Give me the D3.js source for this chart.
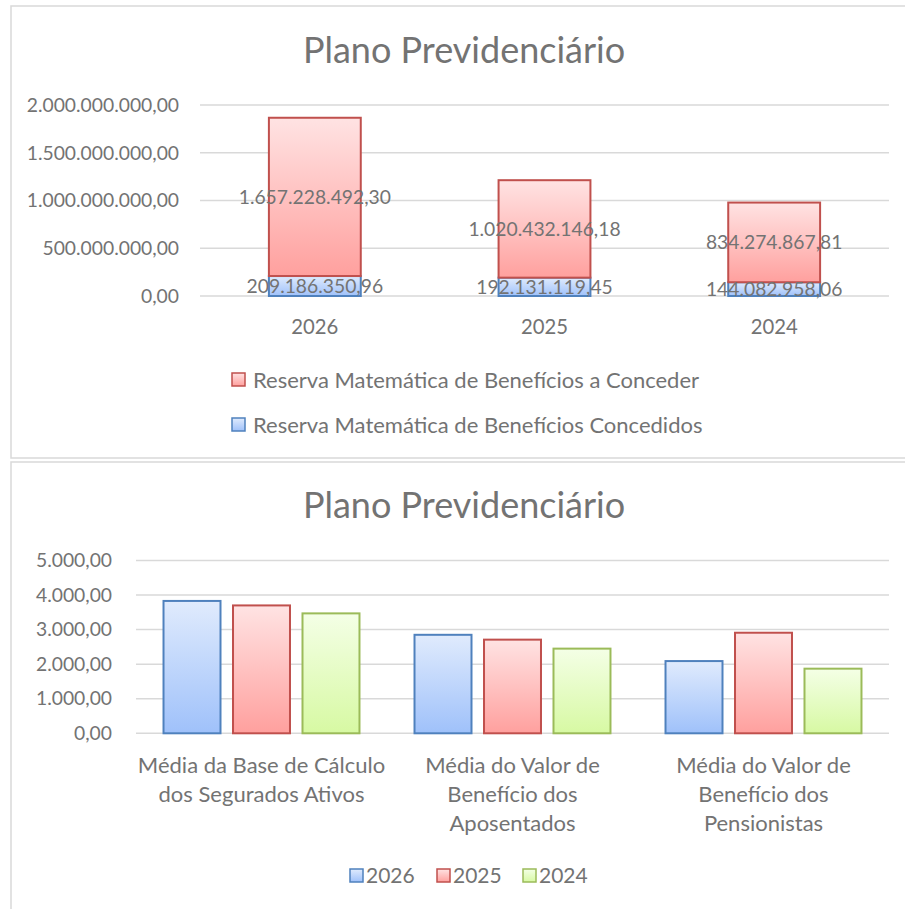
<!DOCTYPE html>
<html>
<head>
<meta charset="utf-8">
<script src="https://cdn.jsdelivr.net/npm/d3@7"></script>
<style>
  body { margin: 0; background: #fff; }
  text { font-family: Lato, "Open Sans", sans-serif; fill: #737373; }
</style>
</head>
<body>
<svg id="chart" width="905" height="909"></svg>
<script>
// top chart data (reservas)
const years = ["2026", "2025", "2024"];
const concedidos = [209186350.96, 192131119.45, 144082958.06];
const aConceder = [1657228492.30, 1020432146.18, 834274867.81];
const reservaTicks = [0, 500000000, 1000000000, 1500000000, 2000000000];
const reservaNames = ["Reserva Matemática de Benefícios a Conceder", "Reserva Matemática de Benefícios Concedidos"];

// bottom chart data (médias)
const mediaCats = [
  ["Média da Base de Cálculo", "dos Segurados Ativos"],
  ["Média do Valor de", "Benefício dos", "Aposentados"],
  ["Média do Valor de", "Benefício dos", "Pensionistas"]
];
const media2026 = [3830, 2850, 2090];
const media2025 = [3700, 2710, 2910];
const media2024 = [3470, 2450, 1870];
const mediaTicks = [0, 1000, 2000, 3000, 4000, 5000];

const br = d3.formatLocale({ decimal: ",", thousands: ".", grouping: [3], currency: ["R$", ""] });
const fmt = br.format(",.2f");

const svg = d3.select("#chart");

// gradients, one per colour (top light -> bottom darker)
const colours = {
  blue: { stroke: "#4f81bd", top: "#e0ebfd", bottom: "#9fc1fa" },
  red: { stroke: "#c0504d", top: "#ffe3e3", bottom: "#ffa09e" },
  green: { stroke: "#9bbb59", top: "#f4ffe6", bottom: "#d7f9a3" }
};
const defs = svg.append("defs");
Object.entries(colours).forEach(([k, c]) => {
  const g = defs.append("linearGradient").attr("id", "grad-" + k)
    .attr("x1", 0).attr("y1", 0).attr("x2", 0).attr("y2", 1);
  g.append("stop").attr("offset", "0%").attr("stop-color", c.top);
  g.append("stop").attr("offset", "100%").attr("stop-color", c.bottom);
});

// chart frames
svg.append("rect").attr("x", 11).attr("y", 6).attr("width", 900).attr("height", 452)
  .attr("fill", "none").attr("stroke", "#d9d9d9").attr("stroke-width", 1.5);
svg.append("rect").attr("x", 11).attr("y", 462).attr("width", 900).attr("height", 460)
  .attr("fill", "none").attr("stroke", "#d9d9d9").attr("stroke-width", 1.5);

// ---------- top chart ----------
const topG = svg.append("g");
topG.append("text").attr("x", 464).attr("y", 50).attr("dy", "0.35em")
  .attr("text-anchor", "middle").style("font-size", "36px").text("Plano Previdenciário");

const y1 = d3.scaleLinear().domain([0, 2000000000]).range([296, 105]);
const x1 = d3.scaleBand().domain(years).range([200, 889]).paddingInner(0.6).paddingOuter(0.3);

topG.append("g").selectAll("line").data(reservaTicks).join("line")
  .attr("x1", 200).attr("x2", 889)
  .attr("y1", d => y1(d)).attr("y2", d => y1(d))
  .attr("stroke", "#d9d9d9").attr("stroke-width", 1.5);

topG.append("g").selectAll("text").data(reservaTicks).join("text")
  .attr("x", 179).attr("y", d => y1(d)).attr("dy", "0.35em")
  .attr("text-anchor", "end").style("font-size", "19.3px").text(d => fmt(d));

topG.append("g").selectAll("text").data(years).join("text")
  .attr("x", d => x1(d) + x1.bandwidth() / 2).attr("y", 327).attr("dy", "0.35em")
  .attr("text-anchor", "middle").style("font-size", "20.3px").text(d => d);

const rows = years.map((yr, i) => ({ year: yr, concedidos: concedidos[i], aConceder: aConceder[i] }));
const stacked = d3.stack().keys(["concedidos", "aConceder"])(rows);
const stackCol = { concedidos: "blue", aConceder: "red" };

stacked.forEach(layer => {
  const c = stackCol[layer.key];
  const g = topG.append("g");
  g.selectAll("rect").data(layer).join("rect")
    .attr("x", d => x1(d.data.year))
    .attr("y", d => y1(d[1]))
    .attr("width", x1.bandwidth())
    .attr("height", d => y1(d[0]) - y1(d[1]))
    .attr("fill", `url(#grad-${c})`)
    .attr("stroke", colours[c].stroke).attr("stroke-width", 2);
});
stacked.forEach(layer => {
  topG.append("g").selectAll("text").data(layer).join("text")
    .attr("x", d => x1(d.data.year) + x1.bandwidth() / 2)
    .attr("y", d => (y1(d[0]) + y1(d[1])) / 2).attr("dy", "0.35em")
    .attr("text-anchor", "middle").style("font-size", "19.3px")
    .text(d => fmt(d.data[layer.key]));
});

// legend top
const legTop = topG.append("g");
reservaNames.forEach((name, i) => {
  const yy = 380 + i * 45;
  const c = i === 0 ? "red" : "blue";
  legTop.append("rect").attr("x", 232).attr("y", yy - 7).attr("width", 13).attr("height", 13)
    .attr("fill", `url(#grad-${c})`).attr("stroke", colours[c].stroke).attr("stroke-width", 1.5);
  legTop.append("text").attr("x", 253).attr("y", yy).attr("dy", "0.35em")
    .style("font-size", "22px").text(name);
});

// ---------- bottom chart ----------
const bot = svg.append("g");
bot.append("text").attr("x", 464).attr("y", 505).attr("dy", "0.35em")
  .attr("text-anchor", "middle").style("font-size", "36px").text("Plano Previdenciário");

const y2 = d3.scaleLinear().domain([0, 5000]).range([733.3, 560.5]);
const x2 = d3.scaleBand().domain(d3.range(mediaCats.length)).range([136, 889]);
const series = [
  { name: "2026", values: media2026, c: "blue" },
  { name: "2025", values: media2025, c: "red" },
  { name: "2024", values: media2024, c: "green" }
];
const xs = d3.scaleBand().domain(series.map(s => s.name)).range([0, x2.bandwidth()])
  .paddingInner(0.18).paddingOuter(0.396);

bot.append("g").selectAll("line").data(mediaTicks).join("line")
  .attr("x1", 136).attr("x2", 889)
  .attr("y1", d => y2(d)).attr("y2", d => y2(d))
  .attr("stroke", "#d9d9d9").attr("stroke-width", 1.5);

bot.append("g").selectAll("text").data(mediaTicks).join("text")
  .attr("x", 112).attr("y", d => y2(d)).attr("dy", "0.35em")
  .attr("text-anchor", "end").style("font-size", "19.3px").text(d => fmt(d));

series.forEach(s => {
  bot.append("g").selectAll("rect").data(s.values).join("rect")
    .attr("x", (d, i) => x2(i) + xs(s.name))
    .attr("y", d => y2(d))
    .attr("width", xs.bandwidth())
    .attr("height", d => y2(0) - y2(d))
    .attr("fill", `url(#grad-${s.c})`)
    .attr("stroke", colours[s.c].stroke).attr("stroke-width", 2);
});

mediaCats.forEach((lines, i) => {
  const t = bot.append("text").attr("text-anchor", "middle").style("font-size", "22px");
  lines.forEach((ln, j) => {
    t.append("tspan").attr("x", x2(i) + x2.bandwidth() / 2).attr("y", 765 + j * 29)
      .attr("dy", "0.35em").text(ln);
  });
});

// legend bottom
const legX = [350, 437, 523];
series.forEach((s, i) => {
  bot.append("rect").attr("x", legX[i]).attr("y", 869).attr("width", 13).attr("height", 13)
    .attr("fill", `url(#grad-${s.c})`).attr("stroke", colours[s.c].stroke).attr("stroke-width", 1.5);
  bot.append("text").attr("x", legX[i] + 16).attr("y", 876).attr("dy", "0.35em")
    .style("font-size", "21px").text(s.name);
});
</script>
</body>
</html>
